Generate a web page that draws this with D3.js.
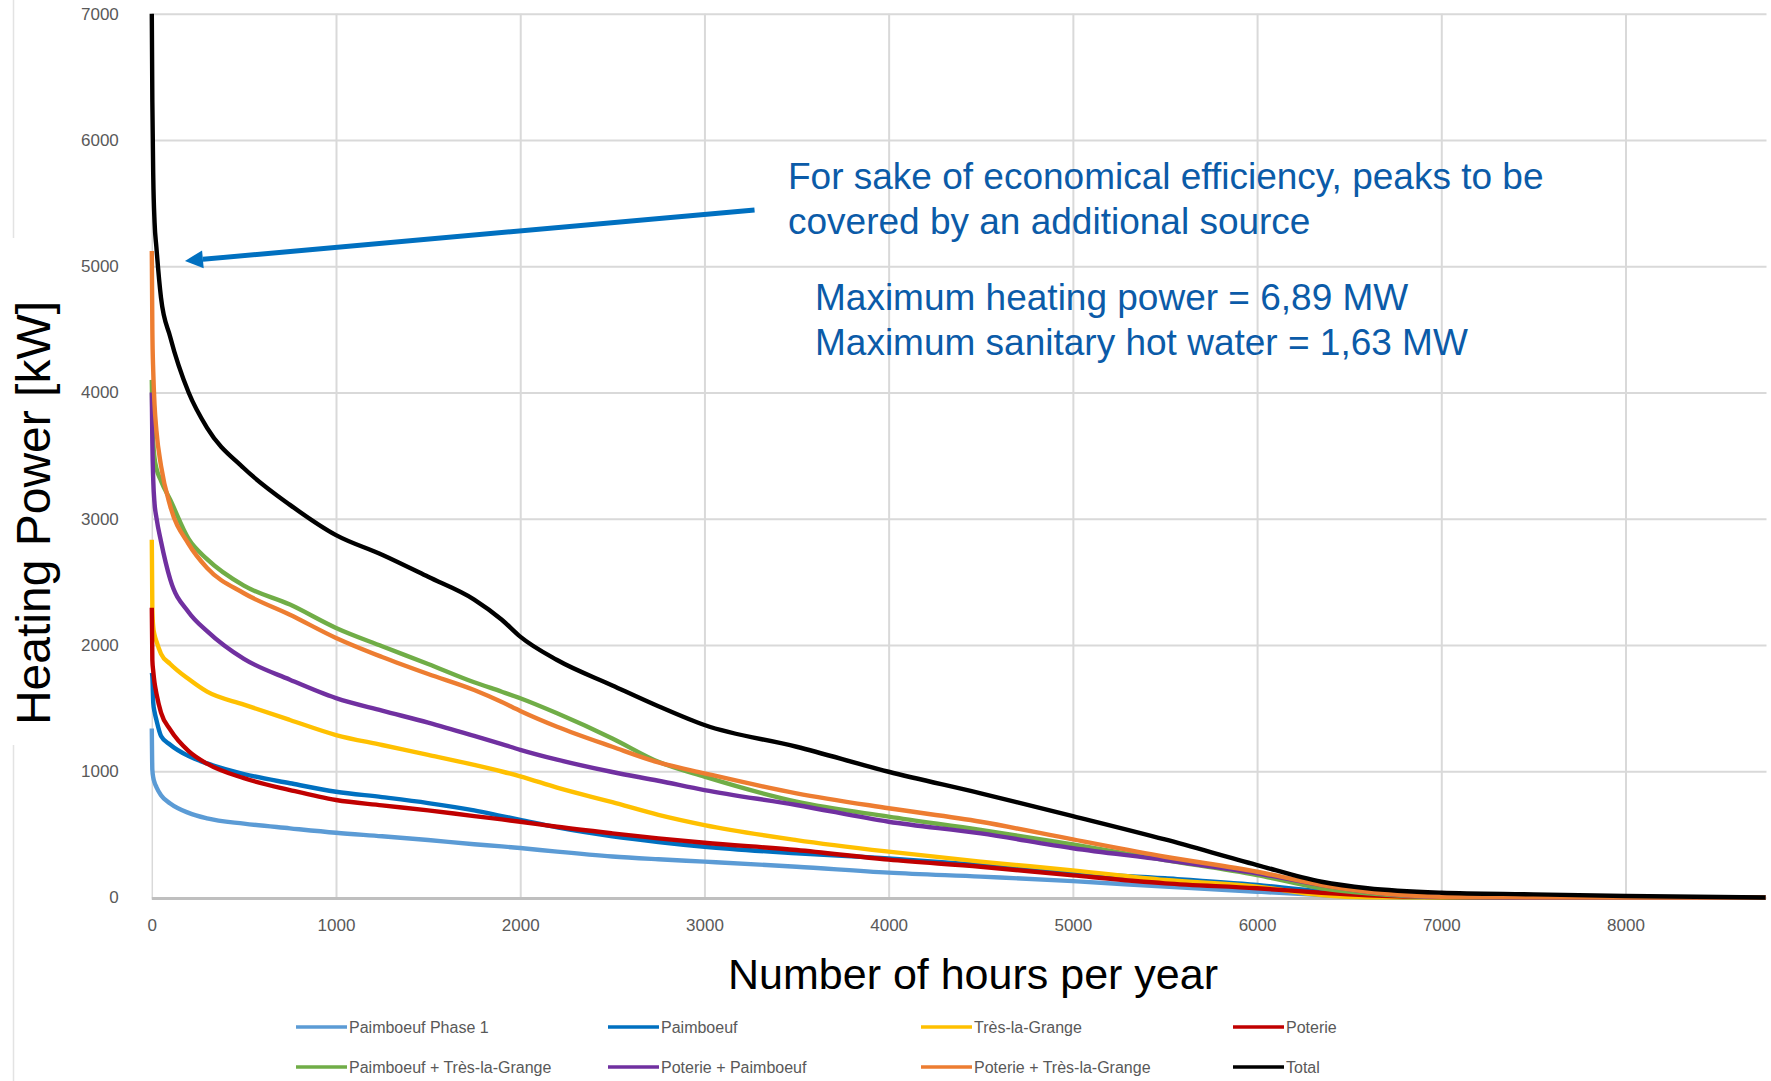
<!DOCTYPE html>
<html>
<head>
<meta charset="utf-8">
<script src="https://cdn.jsdelivr.net/npm/d3@7"></script>
<style>
  html, body { margin: 0; padding: 0; background: #ffffff; }
  svg { display: block; font-family: "Liberation Sans", Arial, sans-serif; }
</style>
</head>
<body>
<svg id="chart" width="1771" height="1081"></svg>
<script>
// ---------------- DATA ----------------
const hours = [0, 3, 8, 15, 25, 50, 100, 200, 300, 500, 750, 1000, 1250, 1500, 1750, 1900, 2000, 2200, 2500, 2750, 3000, 3500, 4000, 4500, 5000, 5500, 6000, 6350, 6600, 7000, 7500, 8000, 8760];

const paimboeufPhase1 = [1339, 1010, 950, 910, 875, 810, 745, 670, 627, 585, 548, 513, 485, 455, 422, 405, 392, 363, 325, 303, 284, 244, 197, 165, 130, 86, 46, 20, 3, 0, 0, 0, 0];
const paimboeuf = [1780, 1749, 1540, 1470, 1406, 1280, 1210, 1120, 1062, 978, 905, 838, 795, 748, 690, 645, 615, 555, 485, 440, 402, 350, 310, 257, 195, 152, 99, 46, 10, 0, 0, 0, 0];
const tresLaGrange = [2833, 2277, 2140, 2080, 2030, 1930, 1850, 1730, 1630, 1528, 1406, 1287, 1208, 1130, 1050, 998, 960, 870, 755, 655, 574, 455, 363, 284, 215, 139, 86, 20, 2, 0, 0, 0, 0];
const poterie = [2295, 1881, 1790, 1700, 1617, 1465, 1330, 1160, 1060, 945, 851, 772, 730, 690, 645, 619, 600, 560, 508, 468, 434, 376, 300, 244, 175, 112, 73, 38, 18, 3, 0, 0, 0];
const paimboeufTres = [4100, 3800, 3600, 3480, 3400, 3300, 3150, 2840, 2680, 2470, 2320, 2135, 1990, 1850, 1705, 1630, 1578, 1459, 1260, 1075, 957, 759, 640, 535, 420, 297, 178, 73, 33, 3, 0, 0, 0];
const poteriePaimboeuf = [4000, 3600, 3300, 3120, 3010, 2820, 2520, 2260, 2110, 1890, 1725, 1579, 1480, 1385, 1280, 1215, 1170, 1092, 994, 925, 851, 733, 600, 508, 390, 297, 192, 99, 46, 5, 0, 0, 0];
const poterieTres = [5120, 4500, 4160, 3900, 3700, 3420, 3100, 2800, 2610, 2410, 2240, 2056, 1905, 1770, 1643, 1548, 1478, 1353, 1194, 1070, 984, 825, 707, 600, 460, 323, 204, 99, 46, 6, 2, 0, 0];
const total = [7000, 6300, 5700, 5350, 5150, 4750, 4440, 4000, 3720, 3400, 3110, 2870, 2715, 2540, 2360, 2200, 2066, 1881, 1680, 1515, 1366, 1194, 996, 825, 645, 460, 257, 125, 73, 38, 25, 12, 0];

const seriesNames = ["Paimboeuf Phase 1", "Paimboeuf", "Très-la-Grange", "Poterie",
                     "Paimboeuf + Très-la-Grange", "Poterie + Paimboeuf", "Poterie + Très-la-Grange", "Total"];
const seriesValues = [paimboeufPhase1, paimboeuf, tresLaGrange, poterie, paimboeufTres, poteriePaimboeuf, poterieTres, total];

const xTicks = [0, 1000, 2000, 3000, 4000, 5000, 6000, 7000, 8000];
const yTicks = [0, 1000, 2000, 3000, 4000, 5000, 6000, 7000];

const xTitle = "Number of hours per year";
const yTitle = "Heating Power [kW]";
const noteLines1 = ["For sake of economical efficiency, peaks to be", "covered by an additional source"];
const noteLines2 = ["Maximum heating power = 6,89 MW", "Maximum sanitary hot water = 1,63 MW"];
// arrow annotation, in data units [hour, kW]
const arrowFrom = [3272, 5446];
const arrowTo = [180, 5042];

// ---------------- STYLE ----------------
const colors = ["#5B9BD5", "#0070C0", "#FFC000", "#C00000", "#70AD47", "#7030A0", "#ED7D31", "#000000"];
const gridColor = "#d9d9d9";
const labelColor = "#595959";
const noteColor = "#0B5BA8";

// ---------------- CHART ----------------
const svg = d3.select("#chart");
const x = d3.scaleLinear().domain([0, 8760]).range([151.8, 1765.5]);
const y = d3.scaleLinear().domain([0, 7000]).range([897.5, 13.75]);

// outer left border
svg.append("line").attr("x1", 13.5).attr("x2", 13.5).attr("y1", 0).attr("y2", 238)
  .attr("stroke", "#e3e3e3").attr("stroke-width", 1.5);
svg.append("line").attr("x1", 13.5).attr("x2", 13.5).attr("y1", 745).attr("y2", 1081)
  .attr("stroke", "#e3e3e3").attr("stroke-width", 1.5);

// horizontal gridlines
const gy = svg.append("g").attr("transform", `translate(${x(0)},0)`)
  .call(d3.axisLeft(y).tickValues(yTicks).tickSize(-(x(8760) - x(0) + 1)).tickFormat(""));
gy.select(".domain").remove();
gy.selectAll(".tick line").attr("stroke", gridColor).attr("stroke-width", 2);

// vertical gridlines
const gx = svg.append("g").attr("transform", `translate(0,${y(0)})`)
  .call(d3.axisBottom(x).tickValues(xTicks).tickSize(-(y(0) - y(7000))).tickFormat(""));
gx.select(".domain").remove();
gx.selectAll(".tick line").attr("stroke", gridColor).attr("stroke-width", 2);
gx.selectAll(".tick").filter(d => d === 0).select("line").attr("stroke-width", 1.5);

// x axis baseline
svg.append("line").attr("x1", x(0)).attr("x2", x(8760)).attr("y1", y(0) + 1).attr("y2", y(0) + 1)
  .attr("stroke", "#bfbfbf").attr("stroke-width", 3);

// y tick labels
const ya = svg.append("g").attr("transform", `translate(${x(0)},0)`)
  .call(d3.axisLeft(y).tickValues(yTicks).tickSize(0).tickPadding(33).tickFormat(d3.format("d")));
ya.select(".domain").remove();
ya.selectAll("text").attr("fill", labelColor).style("font-size", "17px")
  .style("font-family", "'Liberation Sans', Arial, sans-serif");

// x tick labels
const xa = svg.append("g").attr("transform", `translate(0,${y(0)})`)
  .call(d3.axisBottom(x).tickValues(xTicks).tickSize(0).tickFormat(d3.format("d")));
xa.select(".domain").remove();
xa.selectAll("text").attr("y", 33).attr("dy", null).attr("fill", labelColor).style("font-size", "17px")
  .style("font-family", "'Liberation Sans', Arial, sans-serif");

// series lines
const line = d3.line().x((d, i) => x(hours[i])).y(d => y(d)).curve(d3.curveMonotoneX);
svg.append("g").selectAll("path").data(seriesValues).join("path")
  .attr("d", d => line(d))
  .attr("fill", "none")
  .attr("stroke", (d, i) => colors[i])
  .attr("stroke-width", 4.4)
  .attr("stroke-linejoin", "round");

// axis titles
svg.append("text").attr("x", 973).attr("y", 989).attr("text-anchor", "middle")
  .style("font-size", "43px").attr("fill", "#000").text(xTitle);
svg.append("text").attr("transform", "translate(50,513) rotate(-90)").attr("text-anchor", "middle")
  .style("font-size", "48px").attr("fill", "#000").text(yTitle);

// annotation arrow
const ax1 = x(arrowFrom[0]), ay1 = y(arrowFrom[1]);
const ax2 = x(arrowTo[0]), ay2 = y(arrowTo[1]);
const ang = Math.atan2(ay2 - ay1, ax2 - ax1);
const headLen = 18, headW = 9;
const bx = ax2 - headLen * Math.cos(ang), by = ay2 - headLen * Math.sin(ang);
svg.append("line").attr("x1", ax1).attr("y1", ay1).attr("x2", bx).attr("y2", by)
  .attr("stroke", "#0070C0").attr("stroke-width", 5);
svg.append("path")
  .attr("d", `M${ax2},${ay2} L${bx + headW * Math.sin(ang)},${by - headW * Math.cos(ang)} L${bx - headW * Math.sin(ang)},${by + headW * Math.cos(ang)} Z`)
  .attr("fill", "#0070C0");

// annotation texts
noteLines1.forEach((t, i) => {
  svg.append("text").attr("x", 788).attr("y", 189 + i * 44.5)
    .style("font-size", "37px").attr("fill", noteColor).text(t);
});
noteLines2.forEach((t, i) => {
  svg.append("text").attr("x", 815).attr("y", 310 + i * 44.5)
    .style("font-size", "37px").attr("fill", noteColor).text(t);
});

// legend
const legX = [296, 608, 921, 1233];
const legY = [1027, 1067];
const leg = svg.append("g").selectAll("g").data(seriesNames).join("g")
  .attr("transform", (d, i) => `translate(${legX[i % 4]},${legY[Math.floor(i / 4)]})`);
leg.append("line").attr("x1", 0).attr("x2", 51).attr("y1", 0).attr("y2", 0)
  .attr("stroke", (d, i) => colors[i]).attr("stroke-width", 3.6);
leg.append("text").attr("x", 53).attr("y", 0).attr("dy", "0.35em")
  .style("font-size", "16px").attr("fill", labelColor).text(d => d);
</script>
</body>
</html>
